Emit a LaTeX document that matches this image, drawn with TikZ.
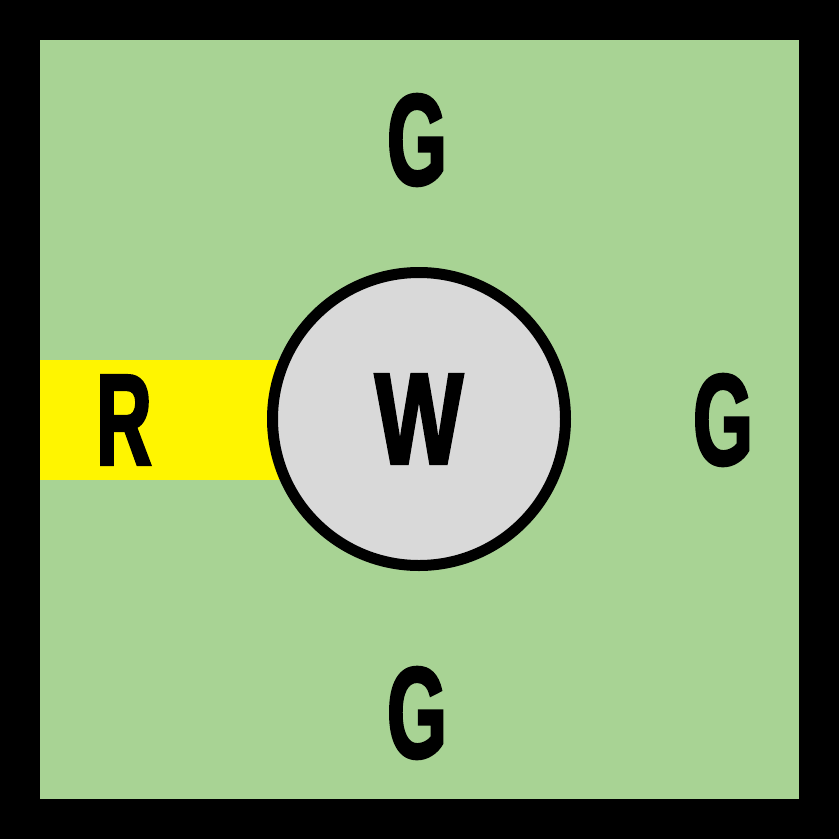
\documentclass[tikz,border=0pt]{standalone}
\usepackage{fontspec}
\newfontfamily\cellfont[FakeStretch=0.59, FakeBold=2]{Liberation Sans Bold}
\newfontfamily\hubfont[FakeStretch=0.72, FakeBold=2]{Liberation Sans Bold}
\usetikzlibrary{positioning}
\definecolor{gridGreen}{RGB}{168, 211, 148}
\definecolor{rowYellow}{RGB}{255, 245, 0}
\definecolor{hubGray}{RGB}{217, 217, 217}
\tikzset{
  cellLabel/.style={
    inner sep=0pt,
    font=\fontsize{37}{37}\selectfont\cellfont
  },
  hubLabel/.style={
    cellLabel,
    font=\fontsize{37}{37}\selectfont\hubfont
  },
  hubCircle/.style={
    circle,
    draw=black,
    line width=1.1mm,
    fill=hubGray,
    minimum size=29.3mm,
    inner sep=0pt
  }
}
\begin{document}
\begin{tikzpicture}[x=0.1mm, y=-0.1mm]
  % Frame and board
  \fill[black] (0, 0) rectangle (839, 839);
  \fill[gridGreen] (40, 40) rectangle (799, 799);
  % Highlighted row
  \fill[rowYellow] (40, 360) rectangle (320, 480);
  % Hub
  \node[hubCircle] (hub) at (419, 419) {};
  \node[hubLabel] (w) at (hub) {W};
  % Neighbours
  \node[cellLabel] (north) at (417, 140) {G};
  \node[cellLabel] (east) at (723, 420) {G};
  \node[cellLabel] (south) at (417, 713) {G};
  \node[cellLabel] (west) at (124, 420) {R};
\end{tikzpicture}
\end{document}
